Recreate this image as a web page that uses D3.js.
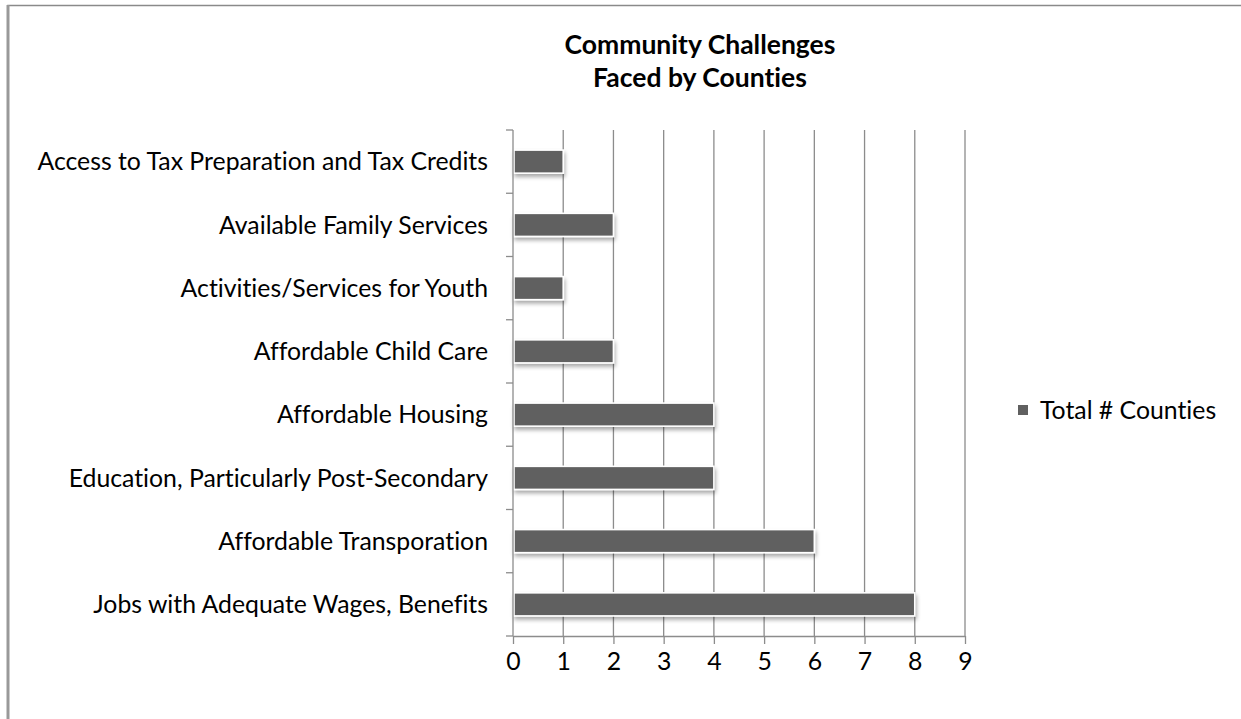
<!DOCTYPE html>
<html>
<head>
<meta charset="utf-8">
<script src="https://cdn.jsdelivr.net/npm/d3@7"></script>
<style>
  html, body { margin: 0; padding: 0; background: #fff; }
  svg { display: block; }
  text { font-variant-ligatures: none; }
</style>
</head>
<body>
<svg id="chart" width="1241" height="719"></svg>
<script>
// Challenges listed top to bottom, with the number of counties reporting each
const categories = [
  "Access to Tax Preparation and Tax Credits",
  "Available Family Services",
  "Activities/Services for Youth",
  "Affordable Child Care",
  "Affordable Housing",
  "Education, Particularly Post-Secondary",
  "Affordable Transporation",
  "Jobs with Adequate Wages, Benefits"
];
const totalCounties = [1, 2, 1, 2, 4, 4, 6, 8];
const xTicks = [0, 1, 2, 3, 4, 5, 6, 7, 8, 9];
const titleLines = ["Community Challenges", "Faced by Counties"];
const seriesName = "Total # Counties";

const font = "Lato, 'Open Sans', sans-serif";
const fontSize = 24.8;
const svg = d3.select("#chart");

// outer frame
svg.append("path")
  .attr("d", "M8,719 V5.5 H1241")
  .attr("fill", "none")
  .attr("stroke", "#8a8a8a")
  .attr("stroke-width", 1.5);
svg.append("line")
  .attr("x1", 8).attr("x2", 8).attr("y1", 5).attr("y2", 719)
  .attr("stroke", "#999").attr("stroke-width", 3);

const plot = { left: 513, right: 965, top: 130, bottom: 636 };

const x = d3.scaleLinear().domain([0, 9]).range([plot.left, plot.right]);
const y = d3.scaleBand().domain(categories).range([plot.top, plot.bottom]).paddingInner(0.635).paddingOuter(0.3175);
const yEdges = d3.scaleLinear().domain([0, categories.length]).range([plot.top, plot.bottom]);

const defs = svg.append("defs");
const shadow = defs.append("filter").attr("id", "barShadow")
  .attr("x", "-10%").attr("y", "-40%").attr("width", "130%").attr("height", "200%");
shadow.append("feGaussianBlur").attr("in", "SourceAlpha").attr("stdDeviation", 2.2).attr("result", "blur");
shadow.append("feOffset").attr("in", "blur").attr("dx", 1).attr("dy", 3).attr("result", "off");
shadow.append("feComponentTransfer").attr("in", "off").attr("result", "soft")
  .append("feFuncA").attr("type", "linear").attr("slope", 0.35);
const merge = shadow.append("feMerge");
merge.append("feMergeNode").attr("in", "soft");
merge.append("feMergeNode").attr("in", "SourceGraphic");

// vertical gridlines
svg.append("g").selectAll("line")
  .data(xTicks.slice(1))
  .join("line")
  .attr("x1", d => x(d)).attr("x2", d => x(d))
  .attr("y1", plot.top).attr("y2", plot.bottom)
  .attr("stroke", "#8c8c8c").attr("stroke-width", 1.3);

// bars
svg.append("g").selectAll("rect")
  .data(categories.map((c, i) => ({ c, v: totalCounties[i] })))
  .join("rect")
  .attr("x", x(0) + 1)
  .attr("y", d => y(d.c))
  .attr("width", d => x(d.v) - x(0) - 1)
  .attr("height", y.bandwidth())
  .attr("fill", "#606060")
  .attr("stroke", "#ffffff")
  .attr("stroke-width", 1.6)
  .attr("filter", "url(#barShadow)");

// x axis
const xAxis = svg.append("g")
  .attr("transform", `translate(0,${plot.bottom})`)
  .call(d3.axisBottom(x).tickValues(xTicks).tickSize(8).tickPadding(8).tickSizeOuter(0));
xAxis.select(".domain").attr("stroke", "#8c8c8c").attr("stroke-width", 1.3);
xAxis.selectAll(".tick line").attr("stroke", "#8c8c8c").attr("stroke-width", 1.3);
xAxis.selectAll(".tick text")
  .attr("font-family", font).attr("font-size", fontSize).attr("fill", "#000");

// y axis: line plus ticks at category boundaries
const yAxisG = svg.append("g");
yAxisG.append("line")
  .attr("x1", plot.left).attr("x2", plot.left)
  .attr("y1", plot.top).attr("y2", plot.bottom)
  .attr("stroke", "#8c8c8c").attr("stroke-width", 1.3);
yAxisG.selectAll("line.tk")
  .data(d3.range(categories.length + 1))
  .join("line").attr("class", "tk")
  .attr("x1", plot.left - 7).attr("x2", plot.left)
  .attr("y1", d => yEdges(d)).attr("y2", d => yEdges(d))
  .attr("stroke", "#8c8c8c").attr("stroke-width", 1.3);

// category labels
svg.append("g").selectAll("text")
  .data(categories)
  .join("text")
  .attr("x", 488)
  .attr("y", d => y(d) + y.bandwidth() / 2)
  .attr("dy", "0.35em")
  .attr("text-anchor", "end")
  .attr("font-family", font)
  .attr("font-size", fontSize)
  .attr("fill", "#000")
  .text(d => d);

// title
svg.append("g").selectAll("text")
  .data(titleLines)
  .join("text")
  .attr("x", 700)
  .attr("y", (d, i) => 54 + i * 33)
  .attr("text-anchor", "middle")
  .attr("font-family", font).attr("font-weight", "bold").attr("font-size", 26.5)
  .attr("fill", "#000")
  .text(d => d);

// legend
const legend = svg.append("g");
legend.append("rect")
  .attr("x", 1018).attr("y", 405).attr("width", 10).attr("height", 10)
  .attr("fill", "#606060");
legend.append("text")
  .attr("x", 1040).attr("y", 410).attr("dy", "0.35em")
  .attr("font-family", font).attr("font-size", fontSize).attr("fill", "#000")
  .text(seriesName);
</script>
</body>
</html>
